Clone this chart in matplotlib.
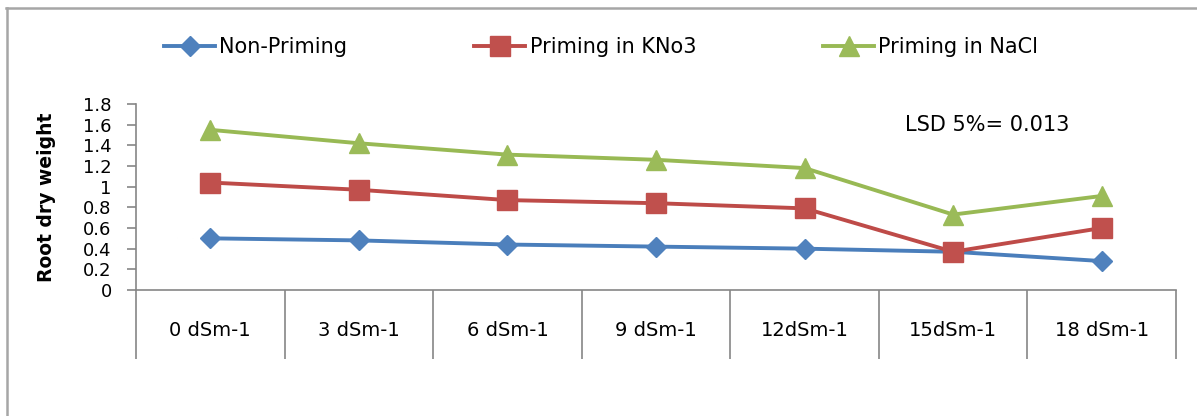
import matplotlib
matplotlib.use("Agg")
import matplotlib.pyplot as plt
from matplotlib.lines import Line2D
import numpy as np

categories = ["0 dSm-1", "3 dSm-1", "6 dSm-1", "9 dSm-1", "12dSm-1", "15dSm-1", "18 dSm-1"]
non_priming = [0.50, 0.48, 0.44, 0.42, 0.40, 0.37, 0.28]
priming_kno3 = [1.04, 0.97, 0.87, 0.84, 0.79, 0.37, 0.60]
priming_nacl = [1.55, 1.42, 1.31, 1.26, 1.18, 0.73, 0.91]
yticks = [0, 0.2, 0.4, 0.6, 0.8, 1, 1.2, 1.4, 1.6, 1.8]
ytick_labels = ["0", "0.2", "0.4", "0.6", "0.8", "1", "1.2", "1.4", "1.6", "1.8"]

plt.rcParams['font.family'] = ['DejaVu Sans']

W, H = 1197, 416
fig = plt.figure(figsize=(W / 100, H / 100), dpi=100)
ax = fig.add_axes([136 / W, (H - 290) / H, (1176 - 136) / W, (290 - 104) / H])

x = np.arange(len(categories))
ax.plot(x, non_priming, color="#4A7EBB", lw=2.8, marker="D", ms=10.5, mfc="#4F81BD", mec="#4F81BD", label="Non-Priming")
ax.plot(x, priming_kno3, color="#BE4B48", lw=2.8, marker="s", ms=14, mfc="#C0504D", mec="#C0504D", label="Priming in KNo3")
ax.plot(x, priming_nacl, color="#98B954", lw=2.8, marker="^", ms=14, mfc="#9BBB59", mec="#9BBB59", label="Priming in NaCl")

ax.set_xlim(-0.5, len(categories) - 0.5)
ax.set_ylim(0, 1.8)
ax.set_yticks(yticks)
ax.set_yticklabels(ytick_labels, fontsize=13)

ax.set_xticks(np.arange(-0.5, len(categories)), minor=False)
ax.set_xticklabels([])
ax.set_xticks(x, minor=True)
ax.set_xticklabels(categories, minor=True, fontsize=14)
ax.tick_params(axis="x", which="major", length=50, width=1.2, color="#868686", direction="out")
ax.tick_params(axis="x", which="minor", length=0, pad=22)
ax.tick_params(axis="y", which="major", length=6.5, width=1.2, color="#868686", direction="out", pad=11)

for s in ["top", "right"]:
    ax.spines[s].set_visible(False)
for s in ["left", "bottom"]:
    ax.spines[s].set_color("#868686")
    ax.spines[s].set_linewidth(1.2)

fig.text(47 / W, 1 - 197 / H, "Root dry weight", rotation=90, ha="center", va="center",
         fontsize=13.5, fontweight="bold")

fig.text(905 / W, 1 - 125 / H, "LSD 5%= 0.013", ha="left", va="center", fontsize=15)

fig.legend(loc="center left", bbox_to_anchor=(164 / W, 1 - 47 / H), ncol=3, frameon=False,
           fontsize=15, handlelength=2.45, handletextpad=0.2, columnspacing=6.1,
           borderpad=0, borderaxespad=0)

fig.add_artist(Line2D([6.5 / W, 6.5 / W], [0, 1 - 8 / H], transform=fig.transFigure, color="#A6A6A6", lw=1.8))
fig.add_artist(Line2D([6 / W, 1], [1 - 8 / H, 1 - 8 / H], transform=fig.transFigure, color="#A6A6A6", lw=1.8))

fig.savefig("out.png", dpi=100)
